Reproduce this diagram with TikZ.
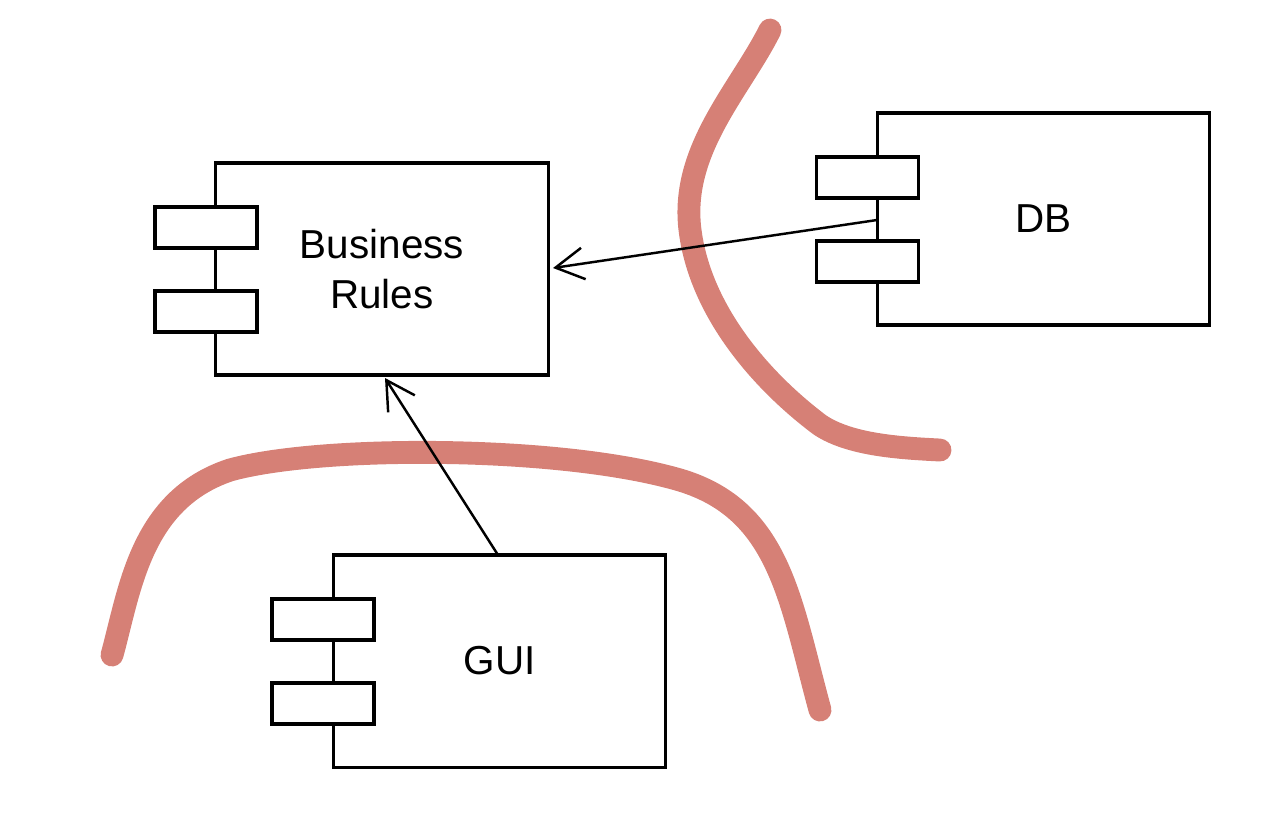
\documentclass[tikz,border=0pt]{standalone}
\usepackage{fontspec}
\setmainfont{Liberation Sans}
\definecolor{redpen}{RGB}{214,128,118}
\begin{document}
\begin{tikzpicture}[x=0.01cm,y=-0.01cm,
  comp/.style={draw,line width=0.9pt,fill=white,minimum width=3.32cm,minimum height=2.12cm,inner sep=0pt,font=\fontsize{11.5}{14}\selectfont,align=center},
  tab/.style={draw,line width=0.9pt,fill=white,minimum width=1.02cm,minimum height=0.41cm,inner sep=0pt},
  pen/.style={redpen,line width=6.5pt,line cap=round,line join=round},
  dep/.style={->,line width=0.7pt,>={Straight Barb[length=8pt,width=9pt]}}]
\useasboundingbox (0,0) rectangle (1274,814);
\usetikzlibrary{arrows.meta}
\draw[pen] (770,30) .. controls (740,90) and (680,150) .. (690,230) .. controls (700,310) and (760,380) .. (820,425) .. controls (850,445) and (900,448) .. (940,450);
\draw[pen] (112,655) .. controls (130,590) and (140,500) .. (230,470) .. controls (320,445) and (560,445) .. (680,480) .. controls (780,510) and (790,600) .. (820,710);
\node[comp] (br) at (382,269) {Business\\Rules};
\node[tab] (br1) at (206,227.5) {};
\node[tab] (br2) at (206,311.5) {};
\node[comp] (db) at (1043.5,219) {DB};
\node[tab] (db1) at (867.5,177.5) {};
\node[tab] (db2) at (867.5,261.5) {};
\node[comp] (gui) at (499.5,661) {GUI};
\node[tab] (g1) at (323,619.5) {};
\node[tab] (g2) at (323,703.5) {};
\coordinate (dbp) at (877,220);
\coordinate (brr) at (553,268);
\coordinate (guip) at (498,555);
\coordinate (brb) at (385,378);
\draw[dep] (dbp) -- (brr);
\draw[dep] (guip) -- (brb);
\end{tikzpicture}
\end{document}
